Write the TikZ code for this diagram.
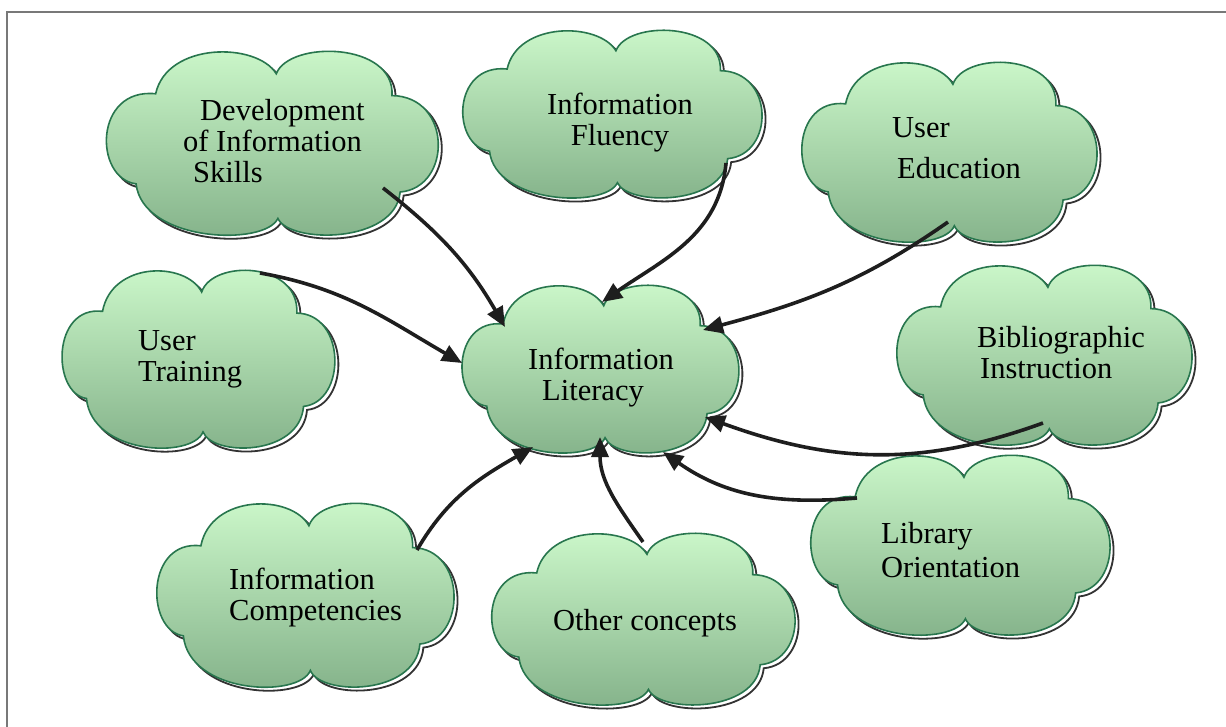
\documentclass[tikz,border=0pt]{standalone}
\usepackage{fontspec}
\setmainfont{Liberation Serif}
\usetikzlibrary{arrows.meta,calc,shapes.geometric}
\definecolor{cloudtop}{RGB}{206,250,204}
\definecolor{cloudbot}{RGB}{130,176,136}
\definecolor{cloudline}{RGB}{40,118,78}
\definecolor{framegray}{RGB}{120,120,120}
\definecolor{arrowblack}{RGB}{30,30,30}
\newcommand\cloudoutline{(0.02,-0.75) .. controls (-0.1,-1.1) and (-0.65,-1.1) .. (-0.72,-0.53) .. controls (-1.1,-0.6) and (-1.1,0.4) .. (-0.84,0.46) .. controls (-0.8,1.1) and (-0.05,1.15) .. (0.03,0.84) .. controls (0.1,1.12) and (0.75,1.12) .. (0.78,0.55) .. controls (1.1,0.5) and (1.1,-0.5) .. (0.73,-0.51) .. controls (0.75,-1.1) and (0.1,-1.12) .. (0.02,-0.75) -- cycle}
\newcommand\drawcloud[5]{%
  \node[cloudspot, minimum width=#4*2pt, minimum height=#5*2pt] (#1) at (#2,#3) {};
  \path[cloudshadow, shift={(#2+3.5,#3+3.5)}, xscale=#4, yscale=#5] \cloudoutline;
  \path[cloudbody, shift={(#2,#3)}, xscale=#4, yscale=#5] \cloudoutline;
}
\tikzset{
  cloudspot/.style={ellipse, draw=none, inner sep=0pt},
  cloudshadow/.style={fill=white, draw=black!80, line width=1.8pt},
  cloudbody/.style={top color=cloudtop, bottom color=cloudbot, draw=cloudline, line width=1.6pt},
  lbl/.style={inner sep=0pt, anchor=base west, align=left, font=\fontsize{30.5}{31}\selectfont, text=black},
  conn/.style={draw=arrowblack, line width=3.6pt, -{Triangle[length=20pt,width=17pt]}},
}
\begin{document}
\begin{tikzpicture}[x=1pt,y=-1pt]
\useasboundingbox (0,0) rectangle (1226,727);
\fill[white] (0,0) rectangle (1226,727);
\draw[framegray, line width=2pt] (7,727) -- (7,12) -- (1226,12);

\drawcloud{dev}{273}{142}{163}{91}
\drawcloud{flu}{613}{113}{147}{83}
\drawcloud{ue}{950}{151}{145}{89}
\drawcloud{ut}{199}{358}{134}{88}
\drawcloud{il}{601}{368}{136}{83}
\drawcloud{bi}{1045}{354}{145}{89}
\drawcloud{lo}{961}{544}{147}{89}
\drawcloud{ic}{306}{594}{146}{91}
\drawcloud{oc}{644}{618}{149}{85}

\node[lbl] (dev-t) at (183,183) {\hspace*{17pt}Development\\of Information\\\hspace*{10pt}Skills};
\node[lbl, anchor=base, align=center] (flu-t) at (620,146) {Information\\Fluency};
\node[lbl] (ue-t) at (892,179) {User\\[10pt]\hspace*{5pt}Education};
\node[lbl] (ut-t) at (138,381) {User\\Training};
\node[lbl] (il-t) at (528,400) {Information\\\hspace*{14pt}Literacy};
\node[lbl] (bi-t) at (977,378) {Bibliographic\\\hspace*{3pt}Instruction};
\node[lbl] (lo-t) at (881,577) {Library\\[3pt]Orientation};
\node[lbl] (ic-t) at (229,620) {Information\\Competencies};
\node[lbl] (oc-t) at (553,630) {Other concepts};

\draw[conn] ($(dev)+(110,46)$) to[out=-38,in=120] ($(il)+(-96,-41)$);
\draw[conn] ($(flu)+(113,50)$) to[out=-95,in=35] ($(il)+(1,-66)$);
\draw[conn] ($(ue)+(-2,71)$) to[out=-145,in=15] ($(il)+(102,-38)$);
\draw[conn] ($(ut)+(61,-85)$) to[out=-10,in=150] ($(il)+(-139,-5)$);
\draw[conn] ($(bi)+(-2,69)$) to[out=-160,in=-20] ($(il)+(104,49)$);
\draw[conn] ($(lo)+(-104,-46)$) to[out=185,in=-35] ($(il)+(62,84)$);
\draw[conn] ($(ic)+(111,-44)$) to[out=60,in=-150] ($(il)+(-68,79)$);
\draw[conn] ($(oc)+(-1,-76)$) to[out=125,in=-90] ($(il)+(-1,69)$);
\end{tikzpicture}
\end{document}
